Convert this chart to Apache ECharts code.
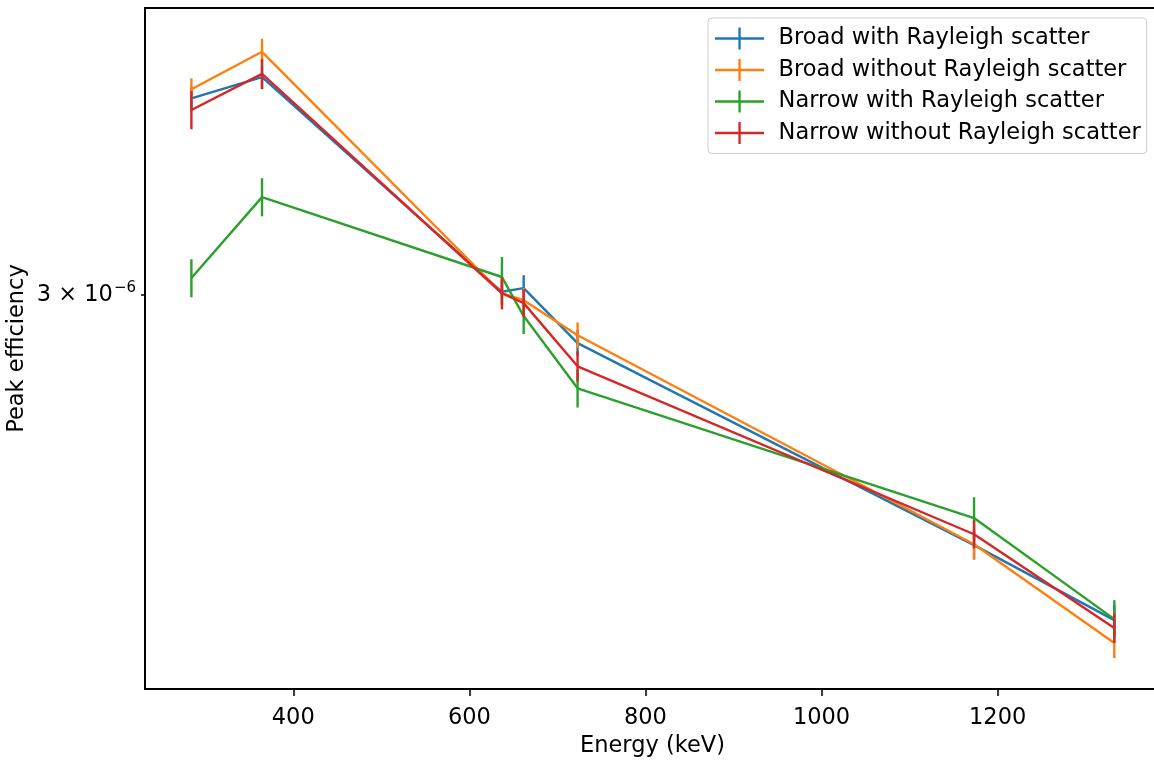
<!DOCTYPE html>
<html><head><meta charset="utf-8">
<script src="https://cdn.jsdelivr.net/npm/echarts@6/dist/echarts.min.js"></script>
<style>html,body{margin:0;padding:0;background:#fff}#c{width:1154px;height:760px}</style>
</head><body><div id="c"></div>
<script>
// Energies (keV)
const energies = [284.3, 364.5, 637.0, 661.7, 722.9, 1173.2, 1332.5];
const seriesNames = ['Broad with Rayleigh scatter', 'Broad without Rayleigh scatter', 'Narrow with Rayleigh scatter', 'Narrow without Rayleigh scatter'];
const seriesColors = ['#1f77b4', '#ff7f0e', '#2ca02c', '#d62728'];
// Peak efficiency values
const broadWith      = [3.591e-6, 3.661e-6, 3.009e-6, 3.019e-6, 2.871e-6, 2.387e-6, 2.229e-6];
const broadWithErr   = [0.039e-6, 0.040e-6, 0.033e-6, 0.036e-6, 0.034e-6, 0.031e-6, 0.031e-6];
const broadWithout   = [3.621e-6, 3.747e-6, 3.005e-6, 2.986e-6, 2.892e-6, 2.389e-6, 2.183e-6];
const broadWithoutErr= [0.036e-6, 0.045e-6, 0.033e-6, 0.033e-6, 0.034e-6, 0.033e-6, 0.030e-6];
const narrowWith     = [3.047e-6, 3.281e-6, 3.050e-6, 2.943e-6, 2.755e-6, 2.447e-6, 2.231e-6];
const narrowWithErr  = [0.053e-6, 0.057e-6, 0.056e-6, 0.048e-6, 0.048e-6, 0.047e-6, 0.039e-6];
const narrowWithout  = [3.553e-6, 3.672e-6, 3.005e-6, 2.978e-6, 2.811e-6, 2.411e-6, 2.213e-6];
const narrowWithoutErr=[0.062e-6, 0.050e-6, 0.044e-6, 0.038e-6, 0.039e-6, 0.031e-6, 0.030e-6];
// Axis ticks and ranges
const xTicks = [400, 600, 800, 1000, 1200];
const xRange = [231.6, 1384.4];
const yTick = 3e-6;
const yRange = [2.093e-6, 3.9e-6];

const FONT = 'DejaVu Sans';
const FS = 22.5;
const values = [broadWith, broadWithout, narrowWith, narrowWithout];
const errs = [broadWithErr, broadWithoutErr, narrowWithErr, narrowWithoutErr];

function errRender(color) {
  return function (params, api) {
    const x = api.value(0), v = api.value(1), e = api.value(2);
    const p1 = api.coord([x, v - e]);
    const p2 = api.coord([x, v + e]);
    return { type: 'line', shape: { x1: p1[0], y1: p1[1], x2: p2[0], y2: p2[1] },
      style: { stroke: color, lineWidth: 2.4 } };
  };
}

const series = [];
seriesNames.forEach(function (name, i) {
  series.push({
    name: name, type: 'line', showSymbol: false, symbol: 'none',
    data: energies.map(function (x, k) { return [x, values[i][k]]; }),
    lineStyle: { color: seriesColors[i], width: 2.4 }, itemStyle: { color: seriesColors[i] },
    animation: false, z: 2 + i
  });
  series.push({
    name: name, type: 'custom', renderItem: errRender(seriesColors[i]),
    dimensions: ['x', 'y', 'e'], encode: { x: 0, y: 1 },
    data: energies.map(function (x, k) { return [x, values[i][k], errs[i][k]]; }),
    itemStyle: { color: seriesColors[i] }, animation: false, z: 2 + i
  });
});

const iconPath = 'path://M0,10 L50,10 L50,12.4 L0,12.4 Z M23.8,0 L26.2,0 L26.2,22.4 L23.8,22.4 Z';

const chart = echarts.init(document.getElementById('c'), null, { renderer: 'canvas' });
chart.setOption({
  backgroundColor: '#ffffff',
  animation: false,
  textStyle: { fontFamily: FONT, color: '#000' },
  grid: { left: 145, top: 8, width: 1015, height: 681, outerBoundsMode: 'none', containLabel: false,
    show: true, borderColor: '#000', borderWidth: 2, backgroundColor: 'transparent' },
  legend: {
    orient: 'vertical', left: 708, top: 18,
    padding: [9, 6, 9, 7],
    backgroundColor: 'rgba(255,255,255,0.85)', borderColor: '#cccccc', borderWidth: 1, borderRadius: 4,
    itemWidth: 50, itemHeight: 22, itemGap: 8.5,
    textStyle: { fontFamily: FONT, fontSize: FS, color: '#000', padding: [0, 0, 0, 9], lineHeight: 22 },
    data: seriesNames.map(function (n, i) { return { name: n, icon: iconPath, itemStyle: { color: seriesColors[i] } }; })
  },
  xAxis: {
    type: 'value', min: xRange[0], max: xRange[1],
    name: 'Energy (keV)', nameLocation: 'middle', nameGap: 46,
    nameTextStyle: { fontFamily: FONT, fontSize: FS, color: '#000' },
    axisLine: { show: true, lineStyle: { color: '#000', width: 2 } },
    axisTick: { show: true, length: 7, lineStyle: { color: '#000', width: 1.5 }, customValues: xTicks },
    axisLabel: { show: true, fontFamily: FONT, fontSize: FS, color: '#000', margin: 18, customValues: xTicks,
      formatter: function (v) { return String(v); } },
    splitLine: { show: false }
  },
  yAxis: {
    type: 'log', logBase: 1 / yTick, min: yRange[0], max: yRange[1],
    name: 'Peak efficiency', nameLocation: 'middle', nameGap: 116, nameRotate: 90, nameMoveOverlap: false,
    nameTextStyle: { fontFamily: FONT, fontSize: FS, color: '#000' },
    axisLine: { show: true, lineStyle: { color: '#000', width: 2 } },
    axisTick: { show: true, length: 4, lineStyle: { color: '#000', width: 1.5 } },
    axisLabel: {
      show: true, margin: 9, showMinLabel: false, showMaxLabel: false,
      formatter: function (v) {
        if (Math.abs(v - yTick) < 1e-9) return '{a|3 × 10}{b|−6}';
        return '';
      },
      rich: {
        a: { fontFamily: FONT, fontSize: FS, color: '#000' },
        b: { fontFamily: FONT, fontSize: 15, color: '#000', padding: [0, 0, 14, 1] }
      }
    },
    splitLine: { show: false }
  },
  series: series
});
</script>
</body></html>
